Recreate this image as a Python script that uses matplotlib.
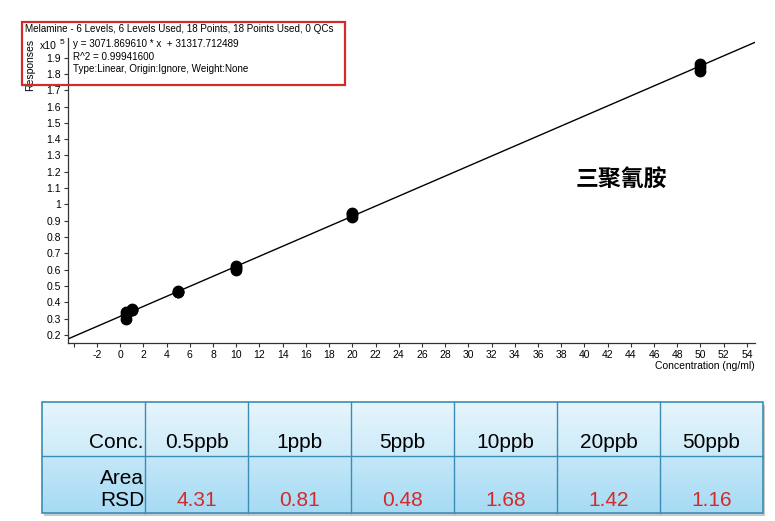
import numpy as np
import matplotlib.pyplot as plt
from matplotlib.patches import Rectangle
from matplotlib.colors import LinearSegmentedColormap

plt.rcParams['font.family'] = ['Liberation Sans', 'DejaVu Sans']

# calibration data (responses in units of 1e5)
conc_levels = [0.5, 1, 5, 10, 20, 50]
responses = [[0.30, 0.32, 0.34],
             [0.35, 0.36, 0.355],
             [0.46, 0.465, 0.47],
             [0.60, 0.61, 0.62],
             [0.92, 0.94, 0.95],
             [1.82, 1.84, 1.86]]
slope = 3071.869610
intercept = 31317.712489
r2 = 0.99941600

# table below the chart
table_conc = ['0.5ppb', '1ppb', '5ppb', '10ppb', '20ppb', '50ppb']
table_rsd = [4.31, 0.81, 0.48, 1.68, 1.42, 1.16]

W, H = 775, 521


def fx(x):
    return x / W


def fy(y):
    return 1 - y / H


fig = plt.figure(figsize=(7.75, 5.21), dpi=100)

# ---- calibration curve
ax = fig.add_axes([fx(68), fy(343), fx(755 - 68), (343 - 38) / H])
ax.set_xlim(-4.5, 54.7)
ax.set_ylim(0.15, 2.02)

xs = np.repeat(conc_levels, 3)
ys = np.array(responses).ravel()
ax.plot(xs, ys, 'o', color='black', markersize=7.5, zorder=3)

xl = np.array(ax.get_xlim())
ax.plot(xl, (slope * xl + intercept) / 1e5, color='black', lw=1, zorder=2)

for s in ['top', 'right']:
    ax.spines[s].set_visible(False)
for s in ['left', 'bottom']:
    ax.spines[s].set_color('#333333')
    ax.spines[s].set_linewidth(0.9)

yt = np.round(np.arange(0.2, 1.95, 0.1), 1)
ax.set_yticks(yt)
ax.set_yticklabels(['%g' % v for v in yt])
xt = np.arange(-4, 55, 2)
ax.set_xticks(xt)
ax.set_xticklabels(['' if v == -4 else str(v) for v in xt])
ax.tick_params(labelsize=7.5, length=3, width=0.8, color='#333333', pad=2)

fig.text(fx(755), fy(366), 'Concentration (ng/ml)', fontsize=7.5,
         ha='right', va='center')
fig.text(fx(30), fy(65), 'Responses', fontsize=7.5, rotation=90,
         ha='center', va='center')
fig.text(fx(40), fy(46), 'x10', fontsize=7.5, ha='left', va='center')
fig.text(fx(60), fy(42), '5', fontsize=6, ha='left', va='center')

# info box
fig.patches.append(Rectangle((fx(22), fy(85)), fx(345 - 22), (85 - 22) / H,
                             transform=fig.transFigure, fill=False,
                             edgecolor='#d42a2a', lw=1.6, zorder=5))
fig.text(fx(25), fy(29), 'Melamine - 6 Levels, 6 Levels Used, 18 Points, '
         '18 Points Used, 0 QCs', fontsize=7.1, va='center')
fig.text(fx(73), fy(44), 'y = %.6f * x  + %.6f' % (slope, intercept),
         fontsize=7.1, va='center')
fig.text(fx(73), fy(57), 'R^2 = %.8f' % r2, fontsize=7.1, va='center')
fig.text(fx(73), fy(69), 'Type:Linear, Origin:Ignore, Weight:None',
         fontsize=7.1, va='center')

fig.text(fx(621), fy(180), '三聚氰胺', fontsize=16.5, fontweight='bold',
         family=['Noto Sans CJK SC', 'DejaVu Sans'], ha='center', va='center')

# ---- table
left, right, top, mid, bot = 42, 763, 402, 456, 513
col_edges = [42, 145, 248, 351, 454, 557, 660, 763]

tax = fig.add_axes([0, 0, 1, 1], zorder=1)
tax.set_xlim(0, W)
tax.set_ylim(H, 0)
tax.axis('off')

# shadow
tax.add_patch(Rectangle((left + 2, top + 3), right - left, bot - top,
                        facecolor='#c8c8c8', edgecolor='none', zorder=0))

cm1 = LinearSegmentedColormap.from_list('r1', ['#e6f5fc', '#cdebf9'])
cm2 = LinearSegmentedColormap.from_list('r2', ['#c4e7f8', '#a6dbf4'])
grad = np.linspace(0, 1, 64).reshape(-1, 1)
tax.imshow(grad, cmap=cm1, aspect='auto', extent=(left, right, mid, top),
           zorder=1)
tax.imshow(grad, cmap=cm2, aspect='auto', extent=(left, right, bot, mid),
           zorder=1)
tax.set_xlim(0, W)
tax.set_ylim(H, 0)

bc = '#3b8db5'
tax.add_patch(Rectangle((left, top), right - left, bot - top, fill=False,
                        edgecolor=bc, lw=1.2, zorder=3))
tax.plot([left, right], [mid, mid], color=bc, lw=1, zorder=3)
for c in col_edges[1:-1]:
    tax.plot([c, c], [top, bot], color=bc, lw=1, zorder=3)

fs = 15
tax.text(col_edges[1] - 1, 442, 'Conc.', fontsize=fs, ha='right',
         va='center', zorder=4)
tax.text(col_edges[1] - 1, 479, 'Area', fontsize=fs, ha='right',
         va='center', zorder=4)
tax.text(col_edges[1] - 1, 501, 'RSD', fontsize=fs, ha='right',
         va='center', zorder=4)
for i, (c, r) in enumerate(zip(table_conc, table_rsd)):
    cx = (col_edges[i + 1] + col_edges[i + 2]) / 2
    tax.text(cx, 442, c, fontsize=fs, ha='center', va='center', zorder=4)
    tax.text(cx, 501, '%.2f' % r, fontsize=fs, ha='center', va='center',
             color='#d42a2a', zorder=4)

fig.savefig('out.png', dpi=100)
